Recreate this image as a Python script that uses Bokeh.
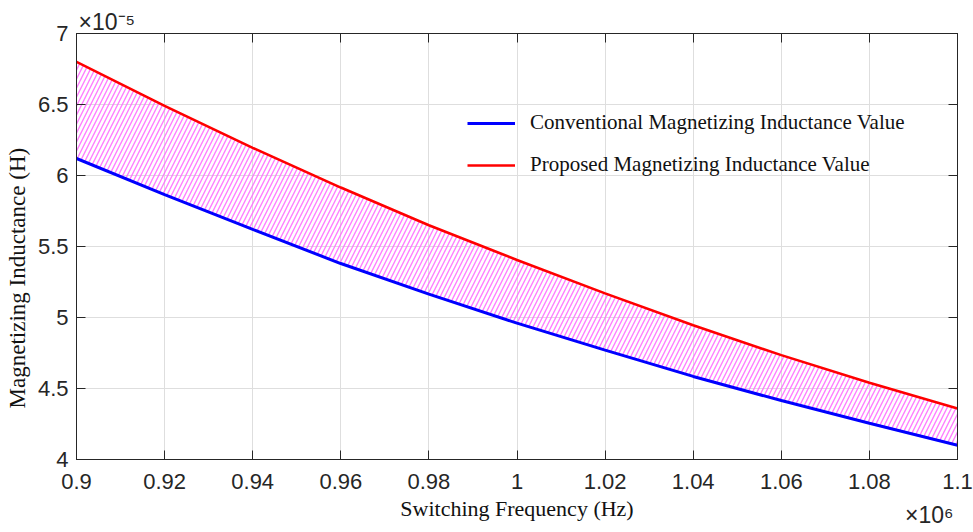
from bokeh.plotting import figure
from bokeh.models import (FixedTicker, LinearAxis, Range1d, Legend, LegendItem,
                          CustomJSTickFormatter)
from bokeh.embed import file_html
from bokeh.resources import INLINE

# Switching frequency (x 10^6 Hz)
freq = [0.90, 0.92, 0.94, 0.96, 0.98, 1.00, 1.02, 1.04, 1.06, 1.08, 1.10]
# Magnetizing inductance (x 10^-5 H)
conventional = [6.12, 5.865, 5.62, 5.38, 5.165, 4.96, 4.77, 4.585, 4.415, 4.255, 4.10]
proposed = [6.80, 6.49, 6.195, 5.915, 5.65, 5.405, 5.17, 4.945, 4.735, 4.54, 4.36]

x_ticks = [0.90, 0.92, 0.94, 0.96, 0.98, 1.00, 1.02, 1.04, 1.06, 1.08, 1.10]
x_tick_labels = ["0.9", "0.92", "0.94", "0.96", "0.98", "1", "1.02", "1.04", "1.06", "1.08", "1.1"]
y_ticks = [4.0, 4.5, 5.0, 5.5, 6.0, 6.5, 7.0]
y_tick_labels = ["4", "4.5", "5", "5.5", "6", "6.5", "7"]

x_exponent = "\u00d710\u2076"
y_exponent = "\u00d710\u207b\u2075"
x_exponent_pos = 1.0936   # where the x exponent sits along the frequency axis

AX = "#262626"
SANS = "Liberation Sans"
SERIF = "Liberation Serif"
NBSP = "\u00a0"

p = figure(width=973, height=532, output_backend="svg", toolbar_location=None,
           x_range=Range1d(0.9, 1.1), y_range=Range1d(4, 7),
           min_border_left=76, min_border_right=16, min_border_top=33, min_border_bottom=73)
p.background_fill_color = "white"
p.border_fill_color = "white"
p.outline_line_color = AX
p.outline_line_width = 1

def style_axis(ax, ticks, labels=None):
    ax.ticker = FixedTicker(ticks=ticks)
    if labels is not None:
        ax.major_label_overrides = dict(zip(ticks, labels))
    ax.axis_line_color = AX
    ax.axis_line_width = 1
    ax.major_tick_line_color = AX
    ax.major_tick_in = 9
    ax.major_tick_out = 0
    ax.minor_tick_line_color = None
    ax.major_label_text_font = SANS
    ax.major_label_text_font_size = "22px"
    ax.major_label_text_color = AX
    ax.axis_label_text_font = SERIF
    ax.axis_label_text_font_style = "normal"
    ax.axis_label_text_color = "#111111"

style_axis(p.xaxis[0], x_ticks, x_tick_labels)
style_axis(p.yaxis[0], y_ticks, y_tick_labels)
p.xaxis[0].axis_label = "Switching Frequency (Hz)"
# trailing no-break spaces move the rotated label a little towards the bottom
p.yaxis[0].axis_label = "Magnetizing Inductance (H)" + NBSP * 11
p.xaxis[0].axis_label_text_font_size = "22px"
p.yaxis[0].axis_label_text_font_size = "23px"
p.xaxis[0].major_label_standoff = 14
p.yaxis[0].major_label_standoff = 8
p.xaxis[0].axis_label_standoff = 4
p.yaxis[0].axis_label_standoff = 5

# box axes on top and right, ticks only
blank = CustomJSTickFormatter(code="return ''")
top = LinearAxis(formatter=blank)
right = LinearAxis(formatter=blank)
style_axis(top, x_ticks)
style_axis(right, y_ticks)
for ax in (top, right):
    ax.major_label_standoff = 0
    ax.major_label_text_font_size = "1px"
p.add_layout(top, "above")
p.add_layout(right, "right")

# exponent of the frequency axis, on the row of the axis title
exp_axis = LinearAxis()
exp_axis.ticker = FixedTicker(ticks=[x_exponent_pos])
exp_axis.major_label_overrides = {x_exponent_pos: x_exponent}
exp_axis.axis_line_color = None
exp_axis.major_tick_line_color = None
exp_axis.major_tick_in = 0
exp_axis.major_tick_out = 0
exp_axis.minor_tick_line_color = None
exp_axis.major_label_standoff = -22
exp_axis.major_label_text_font = SANS
exp_axis.major_label_text_font_size = "23px"
exp_axis.major_label_text_color = AX
p.add_layout(exp_axis, "below")

p.xgrid.ticker = FixedTicker(ticks=x_ticks)
p.ygrid.ticker = FixedTicker(ticks=y_ticks)
p.grid.grid_line_color = "#dedede"
p.grid.grid_line_width = 1

# hatched band between the two curves
p.varea(x=freq, y1=conventional, y2=proposed, fill_alpha=0,
        hatch_pattern="/", hatch_color="#ff66ff", hatch_alpha=0.85,
        hatch_scale=9, hatch_weight=1.4)

r_conv = p.line(freq, conventional, line_color="#0000ff", line_width=3)
r_prop = p.line(freq, proposed, line_color="#ff0000", line_width=2.6)

legend = Legend(items=[LegendItem(label="Conventional Magnetizing Inductance Value", renderers=[r_conv]),
                       LegendItem(label="Proposed Magnetizing Inductance Value", renderers=[r_prop])],
                location=(391, 282), orientation="vertical",
                label_text_font=SERIF, label_text_font_size="21px", label_text_color="#111111",
                glyph_width=48, glyph_height=20, label_height=20, label_standoff=15,
                spacing=17, padding=0, margin=0,
                border_line_color=None, background_fill_alpha=0)
p.add_layout(legend, "center")

# exponent of the inductance axis above the frame
p.title.text = y_exponent
p.title.align = "left"
p.title.offset = 2
p.title.standoff = -3
p.title.text_font = SANS
p.title.text_font_size = "23px"
p.title.text_font_style = "normal"
p.title.text_color = AX

open("out.html", "w").write(file_html(p, INLINE))
